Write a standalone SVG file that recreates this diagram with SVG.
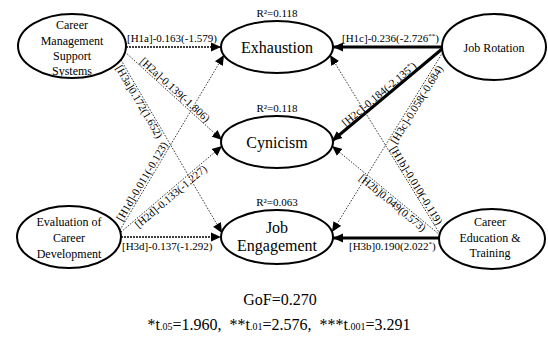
<svg xmlns="http://www.w3.org/2000/svg" width="548" height="340" viewBox="0 0 548 340" font-family="'Liberation Serif', 'Times New Roman', 'DejaVu Serif', serif">
<defs>
<marker id="ah" viewBox="0 0 10 10" refX="10" refY="5" markerWidth="10" markerHeight="10" markerUnits="userSpaceOnUse" orient="auto">
<path d="M0,0.5 L10,5 L0,9.5 z" fill="#000"/>
</marker>
<style>
text{font-family:'Liberation Serif','Times New Roman','DejaVu Serif',serif;fill:#000}
.node ellipse{fill:#fff;stroke:#000;stroke-width:2}
.nt{font-size:12px;text-anchor:middle}
.big{font-size:16px;text-anchor:middle}
.r2{font-size:11px;text-anchor:middle}
.lab{font-size:11px}
.dot{fill:none;stroke:#333;stroke-width:1;stroke-dasharray:1.5 1.5}
.dotb{fill:none;stroke:#000;stroke-width:1.6;stroke-dasharray:2 1}
.thick{fill:none;stroke:#000;stroke-width:3}
.sup{font-size:7px}
</style>
</defs>
<rect width="548" height="340" fill="#fff"/>

<g id="connectors">
<line class="dotb" x1="126" y1="47" x2="221" y2="47" marker-end="url(#ah)"/>
<line class="dot" x1="125" y1="52" x2="222" y2="140" marker-end="url(#ah)"/>
<line class="dot" x1="121" y1="60" x2="222" y2="233" marker-end="url(#ah)"/>
<line class="dot" x1="120" y1="230" x2="224" y2="55" marker-end="url(#ah)"/>
<line class="dot" x1="121" y1="232" x2="222" y2="146" marker-end="url(#ah)"/>
<line class="dotb" x1="121" y1="237" x2="221" y2="237" marker-end="url(#ah)"/>
<line class="thick" x1="442" y1="47" x2="333" y2="47" marker-end="url(#ah)"/>
<line class="thick" x1="442" y1="49" x2="332" y2="141" marker-end="url(#ah)"/>
<line class="dot" x1="443" y1="52" x2="332" y2="232" marker-end="url(#ah)"/>
<line class="dot" x1="440" y1="234" x2="330" y2="55" marker-end="url(#ah)"/>
<line class="dot" x1="440" y1="235" x2="332" y2="146" marker-end="url(#ah)"/>
<line class="thick" x1="439" y1="238" x2="333" y2="238" marker-end="url(#ah)"/>
</g>

<g id="connector-labels">
<text class="lab" x="127" y="42">[H1a]-0.163(-1.579)</text>
<text class="lab" transform="translate(138,63.8) rotate(42.2)" y="-2">[H2a]-0.139(-1.806)</text>
<text class="lab" transform="translate(123,63.4) rotate(59.6)" y="9">[H3a]0.172(1.652)</text>
<text class="lab" transform="translate(124,223) rotate(-59.3)" y="-2">[H1d]-0.011(-0.123)</text>
<text class="lab" transform="translate(133,221.8) rotate(-40.4)" y="9">[H2d]-0.133(-1.227)</text>
<text class="lab" x="122" y="250">[H3d]-0.137(-1.292)</text>
<text class="lab" x="342" y="42">[H1c]-0.236(-2.726<tspan class="sup" dy="-4">**</tspan><tspan dy="4">)</tspan></text>
<text class="lab" transform="translate(347,128.5) rotate(-39.9)" y="-2">[H2c]-0.184(-2.135<tspan class="sup" dy="-4">*</tspan><tspan dy="4">)</tspan></text>
<text class="lab" transform="translate(388.7,140) rotate(-58.3)" y="9">[H3c]-0.058(-0.684)</text>
<text class="lab" transform="translate(388,150) rotate(58.4)" y="-2">[H1b]-0.010(-0.119)</text>
<text class="lab" transform="translate(364,172.4) rotate(39.5)" y="9">[H2b]0.049(0.573)</text>
<text class="lab" x="349" y="250">[H3b]0.190(2.022<tspan class="sup" dy="-4">*</tspan><tspan dy="4">)</tspan></text>
</g>

<g id="node-cmss" class="node">
<ellipse cx="72" cy="46" rx="54" ry="32"/>
<text class="nt" x="72" y="29">Career</text>
<text class="nt" x="72" y="45">Management</text>
<text class="nt" x="72" y="60">Support</text>
<text class="nt" x="72" y="75">Systems</text>
</g>

<g id="node-ecd" class="node">
<ellipse cx="69" cy="237" rx="52" ry="31"/>
<text class="nt" x="69" y="226">Evaluation of</text>
<text class="nt" x="69" y="242">Career</text>
<text class="nt" x="69" y="258">Development</text>
</g>

<g id="node-exhaustion" class="node">
<text class="r2" x="277" y="17">R²=0.118</text>
<ellipse cx="277" cy="47" rx="56" ry="26"/>
<text class="big" x="277" y="53">Exhaustion</text>
</g>

<g id="node-cynicism" class="node">
<text class="r2" x="277" y="112">R²=0.118</text>
<ellipse cx="277" cy="142" rx="56" ry="26"/>
<text class="big" x="277" y="148">Cynicism</text>
</g>

<g id="node-engagement" class="node">
<text class="r2" x="277" y="206">R²=0.063</text>
<ellipse cx="277" cy="237" rx="56" ry="27"/>
<text class="big" x="277" y="233">Job</text>
<text class="big" x="277" y="251">Engagement</text>
</g>

<g id="node-jobrotation" class="node">
<ellipse cx="494" cy="47" rx="52" ry="33"/>
<text class="nt" x="494" y="52">Job Rotation</text>
</g>

<g id="node-cet" class="node">
<ellipse cx="492" cy="239" rx="53" ry="30"/>
<text class="nt" x="490" y="226">Career</text>
<text class="nt" x="490" y="242">Education &amp;</text>
<text class="nt" x="490" y="257">Training</text>
</g>

<g id="footer">
<text x="280" y="305" font-size="16" text-anchor="middle">GoF=0.270</text>
<text x="279" y="330" font-size="16" text-anchor="middle" xml:space="preserve">*t<tspan font-size="10">.05</tspan>=1.960,  **t<tspan font-size="10">.01</tspan>=2.576,  ***t<tspan font-size="10">.001</tspan>=3.291</text>
</g>
</svg>
